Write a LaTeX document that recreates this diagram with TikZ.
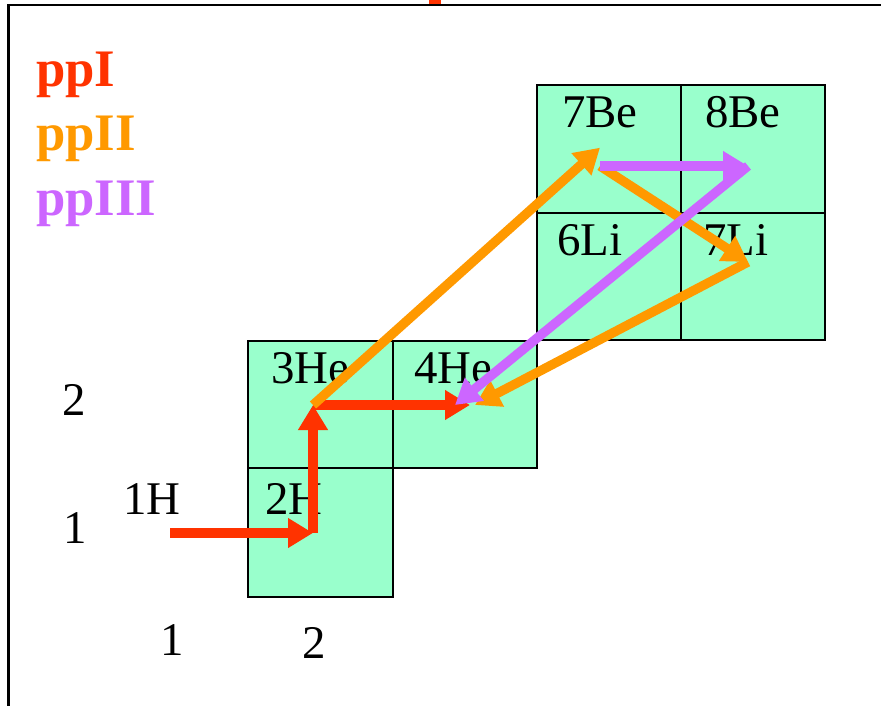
\documentclass[tikz,border=0pt]{standalone}
\usepackage{fontspec}
\setmainfont{Liberation Serif}
\usetikzlibrary{arrows.meta}
\definecolor{ppred}{HTML}{FF3300}
\definecolor{pporange}{HTML}{FF9900}
\definecolor{pppurple}{HTML}{CC66FF}
\definecolor{cellgreen}{HTML}{99FFCC}
\tikzset{cell/.style = {fill=cellgreen, draw=black, line width=1.7pt}}
\tikzset{nuc/.style = {anchor=base west, inner sep=0, font=\fontsize{40}{44}\selectfont}}
\tikzset{legend/.style = {anchor=base west, inner sep=0, font=\fontsize{45}{50}\selectfont\bfseries}}
\tikzset{chain/.style = {line width=8pt, -{Triangle[length=0.75cm, width=0.85cm]}}}

\begin{document}
\begin{tikzpicture}[x=0.03cm, y=-0.03cm]
      \useasboundingbox (0,0) rectangle (881,705);
      \fill [ppred] (429,0) rectangle (441,5);
      \draw [line width=2.5pt] (8.5,710) -- (8.5,5) -- (890,5);

      \foreach \xa/\ya/\xb/\yb in {248/468/393/597, 248/341/393/468, 393/341/537/468,
          537/85/681/213, 681/85/825/213, 537/213/681/340, 681/213/825/340}
        \draw [cell] (\xa,\ya) rectangle (\xb,\yb);

      \node [legend, ppred] (ppI) at (36,87) {ppI};
      \node [legend, pporange] (ppII) at (36,150) {ppII};
      \node [legend, pppurple] (ppIII) at (36,215) {ppIII};

      \node [nuc] (lH1) at (123,514) {1H};
      \node [nuc] (lH2) at (265,514) {2H};
      \node [nuc] (lHe3) at (271,383) {3He};
      \node [nuc] (lHe4) at (414,383) {4He};
      \node [nuc] (lBe7) at (562,127) {7Be};
      \node [nuc] (lBe8) at (705,127) {8Be};
      \node [nuc] (lLi6) at (557,255) {6Li};
      \node [nuc] (lLi7) at (703,255) {7Li};

      \node [nuc] (z2) at (62,415) {2};
      \node [nuc] (z1) at (63,543) {1};
      \node [nuc] (n1) at (160,655) {1};
      \node [nuc] (n2) at (302,658) {2};

      \coordinate (H1) at (170,533);
      \coordinate (H2) at (313,533);
      \coordinate (He3) at (313,405);
      \coordinate (He4) at (470,405);
      \coordinate (Be7) at (600,166);
      \coordinate (Be8) at (748,166);
      \coordinate (Li7) at (748,262);

      \draw [chain, ppred] (H1) -- (H2);
      \draw [chain, ppred] (H2) -- (He3);
      \draw [chain, ppred] (He3) -- (He4);
      \draw [chain, pporange] (He3) -- ([yshift=0.55cm]Be7);
      \draw [chain, pporange] (Be7) -- (Li7);
      \draw [chain, pporange] (Li7) -- ([xshift=0.15cm]He4);
      \draw [chain, pppurple] (Be7) -- (Be8);
      \draw [chain, pppurple] (Be8) -- ([xshift=-0.45cm]He4);
    \end{tikzpicture}
\end{document}
